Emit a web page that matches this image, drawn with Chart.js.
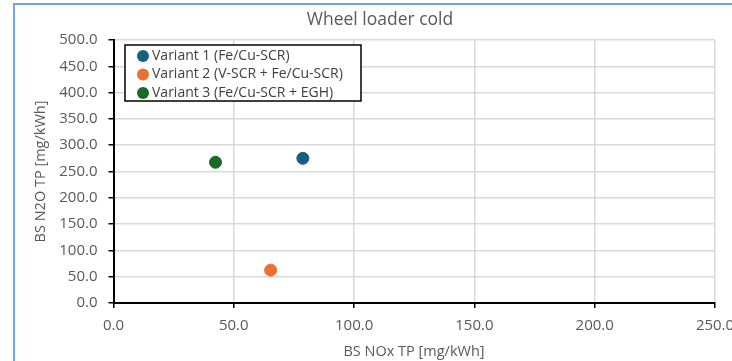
<!DOCTYPE html>
<html>
<head>
<meta charset="utf-8">
<script src="https://cdn.jsdelivr.net/npm/chart.js@4"></script>
<style>
  html, body { margin: 0; padding: 0; background: #fff; }
  #wrap { width: 732px; height: 361px; }
</style>
</head>
<body>
<div id="wrap"><canvas id="chart" width="732" height="361"></canvas></div>
<script>
// data
const seriesNames = ['Variant 1 (Fe/Cu-SCR)', 'Variant 2 (V-SCR + Fe/Cu-SCR)', 'Variant 3 (Fe/Cu-SCR + EGH)'];
const noxValues = [78.7, 65.3, 42.4];
const n2oValues = [275.0, 62.5, 267.5];
const seriesColors = ['#156082', '#E97132', '#196B24'];
const xTicks = [0, 50, 100, 150, 200, 250];
const yTicks = [0, 50, 100, 150, 200, 250, 300, 350, 400, 450, 500];

const FONT = '"Open Sans", sans-serif';
const GREY = '#595959';

const datasets = seriesNames.map((name, i) => ({
    label: name,
    data: [{ x: noxValues[i], y: n2oValues[i] }],
    backgroundColor: seriesColors[i],
    borderColor: seriesColors[i],
    pointRadius: 6,
    pointHoverRadius: 6
}));

// blue frame, title, axis titles and the boxed legend
const decorations = {
    id: 'decorations',
    afterDraw(chart) {
        const ctx = chart.ctx;
        const area = chart.chartArea;
        ctx.save();

        ctx.strokeStyle = '#6FA8DC';
        ctx.lineWidth = 2;
        ctx.beginPath();
        ctx.moveTo(14, 361);
        ctx.lineTo(14, 4);
        ctx.lineTo(732, 4);
        ctx.stroke();

        ctx.fillStyle = GREY;
        ctx.textAlign = 'center';
        ctx.textBaseline = 'middle';
        ctx.font = '17.5px ' + FONT;
        ctx.fillText('Wheel loader cold', 380, 20);

        ctx.font = '14.5px ' + FONT;
        ctx.fillText('BS NOx TP [mg/kWh]', 414, 352);

        ctx.save();
        ctx.translate(41, (area.top + area.bottom) / 2);
        ctx.rotate(-Math.PI / 2);
        ctx.fillText('BS N2O TP [mg/kWh]', 0, 0);
        ctx.restore();

        // legend
        const box = { left: 125, top: 45, width: 236, height: 56 };
        ctx.fillStyle = '#fff';
        ctx.fillRect(box.left, box.top, box.width, box.height);
        ctx.strokeStyle = '#000';
        ctx.lineWidth = 1.5;
        ctx.strokeRect(box.left, box.top, box.width, box.height);

        ctx.font = '14px ' + FONT;
        ctx.textAlign = 'left';
        seriesNames.forEach((name, i) => {
            const y = box.top + 11 + i * 18.5;
            ctx.fillStyle = seriesColors[i];
            ctx.beginPath();
            ctx.arc(143, y, 6, 0, Math.PI * 2);
            ctx.fill();
            ctx.fillStyle = '#404040';
            ctx.fillText(name, 152, y);
        });
        ctx.restore();
    }
};

new Chart(document.getElementById('chart'), {
    type: 'scatter',
    data: { datasets: datasets },
    options: {
        responsive: false,
        animation: false,
        layout: { padding: { left: 20, right: 17, top: 40, bottom: 0 } },
        plugins: {
            legend: { display: false },
            title: { display: false },
            tooltip: { enabled: false }
        },
        scales: {
            x: {
                min: 0,
                max: 250,
                afterBuildTicks: (axis) => { axis.ticks = xTicks.map(v => ({ value: v })); },
                afterFit: (axis) => { axis.height = 58; axis.paddingLeft = 0; axis.paddingRight = 0; },
                ticks: {
                    color: GREY,
                    font: { family: FONT, size: 15 },
                    padding: 9,
                    maxRotation: 0,
                    callback: (v) => v.toFixed(1)
                },
                grid: { color: '#d9d9d9', lineWidth: 1.5, tickColor: '#000', tickLength: 5 },
                border: { color: '#000', width: 2 }
            },
            y: {
                min: 0,
                max: 500,
                afterBuildTicks: (axis) => { axis.ticks = yTicks.map(v => ({ value: v })); },
                afterFit: (axis) => { axis.width = 93.5; axis.paddingTop = 0; axis.paddingBottom = 0; },
                ticks: {
                    color: GREY,
                    font: { family: FONT, size: 15 },
                    padding: 11,
                    callback: (v) => v.toFixed(1)
                },
                grid: { color: '#d9d9d9', lineWidth: 1.5, tickColor: '#000', tickLength: 5 },
                border: { color: '#000', width: 2 }
            }
        }
    },
    plugins: [decorations]
});
</script>
</body>
</html>
